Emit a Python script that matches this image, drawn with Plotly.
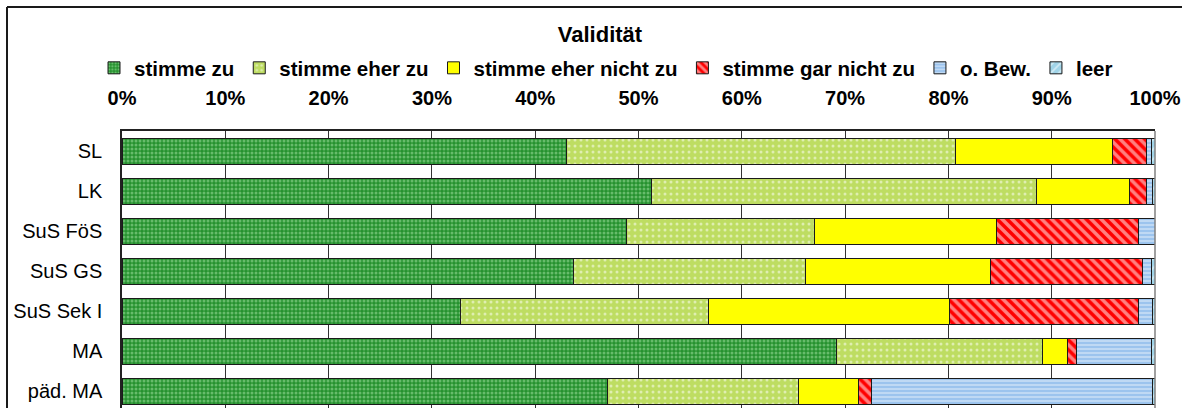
import plotly.graph_objects as go

# Response shares per group (percent of all answers, 100 % stacked)
groups = ["SL", "LK", "SuS FöS", "SuS GS", "SuS Sek I", "MA", "päd. MA"]
answers = ["stimme zu", "stimme eher zu", "stimme eher nicht zu",
           "stimme gar nicht zu", "o. Bew.", "leer"]

stimme_zu = [43.0, 51.3, 48.8, 43.7, 32.8, 69.2, 47.0]
stimme_eher_zu = [37.7, 37.2, 18.2, 22.5, 24.0, 19.9, 18.5]
stimme_eher_nicht_zu = [15.2, 9.0, 17.7, 17.9, 23.3, 2.4, 5.8]
stimme_gar_nicht_zu = [3.3, 1.7, 13.7, 14.7, 18.3, 0.9, 1.3]
ohne_bewertung = [0.5, 0.6, 1.6, 0.9, 1.4, 7.3, 27.2]
leer = [0.3, 0.2, 0.0, 0.3, 0.2, 0.3, 0.2]

x_ticks = list(range(0, 101, 10))
x_ticklabels = [f"{v}%" for v in x_ticks]

series = [stimme_zu, stimme_eher_zu, stimme_eher_nicht_zu,
          stimme_gar_nicht_zu, ohne_bewertung, leer]

# Fill styles: background colour + hatch pattern per answer category
styles = [
    dict(color="#26922F", pattern=dict(shape=".", fgcolor="#A8E6A8", bgcolor="#26922F", size=4, solidity=0.45)),
    dict(color="#BEDD62", pattern=dict(shape=".", fgcolor="#FFFFFF", bgcolor="#BEDD62", size=6, solidity=0.2)),
    dict(color="#FFFF00", pattern=dict(shape="")),
    dict(color="#FF0000", pattern=dict(shape="\\", fgcolor="#FFFFFF", bgcolor="#FF0000", size=7, solidity=0.5)),
    dict(color="#9CC4EE", pattern=dict(shape="-", fgcolor="#FFFFFF", bgcolor="#9CC4EE", size=4, solidity=0.35)),
    dict(color="#A0D4E8", pattern=dict(shape="/", fgcolor="#FFFFFF", bgcolor="#A0D4E8", size=7, solidity=0.3)),
]

FONT = "Arial, Liberation Sans, sans-serif"

fig = go.Figure()
for name, vals, st in zip(answers, series, styles):
    fig.add_trace(go.Bar(
        y=groups, x=vals, name=name, orientation="h",
        marker=dict(color=st["color"], pattern=st["pattern"],
                    line=dict(color="#1a1a1a", width=1)),
        hoverinfo="x+y+name",
    ))

W, H = 1182, 408
ML, MR, MT, MB = 122, 27, 131, 0
plot_h = H - MT - MB
plot_w = W - ML - MR

fig.update_layout(
    width=W, height=H,
    margin=dict(l=ML, r=MR, t=MT, b=MB, pad=0, autoexpand=False),
    barmode="stack", bargap=0.35,
    paper_bgcolor="white", plot_bgcolor="white",
    font=dict(family=FONT, color="black"),
    title=dict(text="Validität", x=600 / W, xanchor="center",
               xref="container", yref="container", y=1 - 34 / H, yanchor="middle",
               font=dict(size=22, weight="bold", family=FONT, color="black")),
    legend=dict(orientation="h", xref="container", yref="container",
                x=606 / W, xanchor="center", y=1 - 68 / H, yanchor="middle",
                font=dict(size=20.5, weight="bold", family=FONT, color="black"),
                itemwidth=30, traceorder="normal", bgcolor="rgba(0,0,0,0)"),
    showlegend=True,
)

fig.update_xaxes(
    side="top", range=[0, 100], tickvals=x_ticks, ticktext=x_ticklabels,
    showgrid=True, gridcolor="#333333", gridwidth=1,
    showline=True, linecolor="#222222", linewidth=1.5,
    ticks="", ticklabelstandoff=16, zeroline=False,
    ticklabeloverflow="allow",
    tickfont=dict(size=20, weight="bold", family=FONT, color="black"),
    fixedrange=True,
)

# Seven category bands of 40 px; the lowest one runs past the bottom edge
band_px = 40
fig.update_yaxes(
    type="category", categoryorder="array", categoryarray=groups,
    range=[-0.5 + plot_h / band_px, -0.5],
    showgrid=False, showline=True, linecolor="#222222", linewidth=1.5,
    mirror=False, ticks="", ticklabelstandoff=14,
    tickfont=dict(size=20, family=FONT, color="black"),
    fixedrange=True,
)

# Right-hand edge of the plot area
fig.add_shape(type="line", xref="paper", yref="paper", x0=1, x1=1, y0=0, y1=1,
              line=dict(color="#808080", width=1.5), layer="above")

# Chart frame: only its top and left edges fall inside the page
frame_x = (7 - ML) / plot_w
frame_y = 1 + (MT - 7) / plot_h
fig.add_shape(type="line", xref="paper", yref="paper",
              x0=frame_x, x1=(W + 10 - ML) / plot_w, y0=frame_y, y1=frame_y,
              line=dict(color="#1a1a1a", width=2), layer="above")
fig.add_shape(type="line", xref="paper", yref="paper",
              x0=frame_x, x1=frame_x, y0=-0.1, y1=frame_y,
              line=dict(color="#1a1a1a", width=2), layer="above")

fig.write_html("out.html")
